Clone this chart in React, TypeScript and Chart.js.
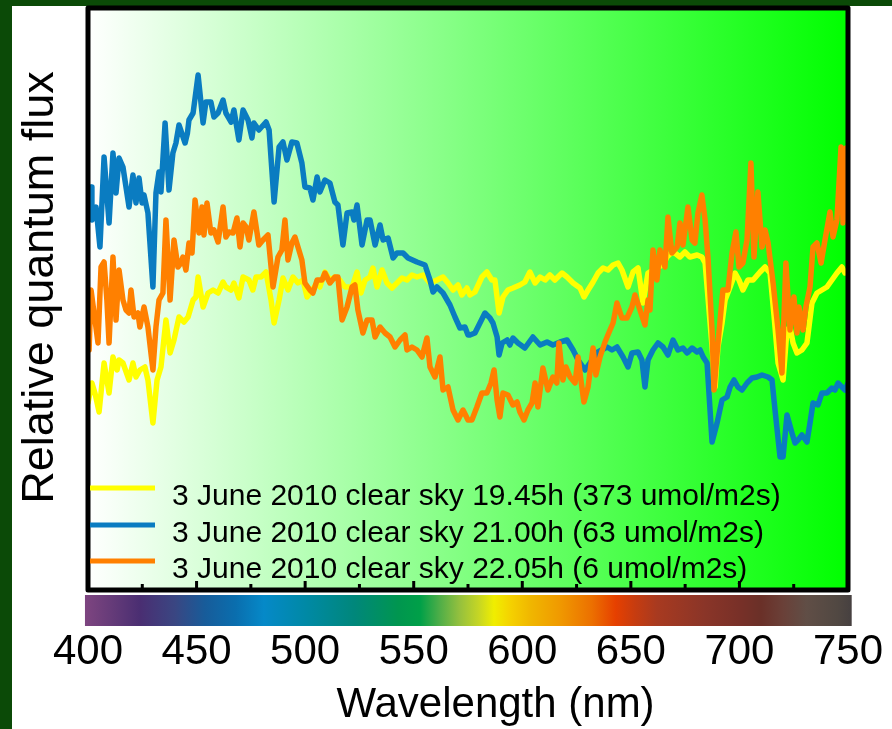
import { useEffect, useRef } from "react";
import { Chart, registerables } from "chart.js";

Chart.register(...registerables);

const FONT = "'Liberation Sans', Arial, Helvetica, sans-serif";

// Wavelength axis (nm)
const WAVELENGTH_MIN = 400;
const WAVELENGTH_MAX = 750;
const WAVELENGTH_STEP = 50;

const SERIES_LABELS = [
  "3 June 2010 clear sky 19.45h (373 umol/m2s)",
  "3 June 2010 clear sky 21.00h (63 umol/m2s)",
  "3 June 2010 clear sky 22.05h (6 umol/m2s)",
];
const SERIES_COLORS = ["#ffff00", "#0a7cc1", "#ff8000"];

// 19.45h spectrum
const YELLOW_NM = [
  400.0, 401.8, 403.2, 405.1, 407.4, 409.7, 411.5, 413.4, 414.3, 416.1,
  418.9, 420.7, 422.1, 423.9, 426.2, 427.6, 429.9, 431.8, 433.6, 435.9,
  437.8, 439.6, 441.9, 444.2, 446.1, 448.4, 449.7, 450.7, 453.0, 455.3,
  457.6, 459.9, 462.2, 463.5, 465.9, 467.2, 469.5, 471.4, 474.1, 475.9,
  477.4, 479.7, 482.0, 484.3, 485.7, 488.0, 489.8, 492.1, 494.4, 496.7,
  499.0, 500.9, 503.2, 505.5, 506.8, 509.1, 511.4, 513.7, 516.0, 518.3,
  521.6, 523.9, 525.7, 527.6, 529.9, 531.2, 533.1, 535.4, 537.7, 540.0,
  542.3, 544.6, 546.9, 549.2, 551.5, 554.3, 557.5, 560.7, 563.5, 565.8,
  568.1, 570.4, 572.2, 574.5, 575.9, 578.2, 581.4, 583.7, 586.0, 587.4,
  589.3, 591.1, 593.4, 595.7, 598.9, 601.2, 603.5, 605.9, 608.2, 610.5,
  612.7, 615.0, 618.3, 620.6, 623.4, 626.6, 628.4, 630.3, 632.6, 634.9,
  637.2, 639.5, 641.8, 644.1, 645.9, 648.7, 651.0, 653.3, 655.6, 657.9,
  660.2, 662.5, 664.8, 666.6, 668.5, 670.3, 672.6, 674.9, 677.2, 680.5,
  682.7, 684.2, 685.5, 687.4, 688.8, 690.1, 692.0, 693.4, 695.7, 698.0,
  699.8, 701.6, 703.9, 706.3, 709.5, 711.8, 714.1, 716.0, 717.8, 720.1,
  721.9, 723.3, 724.7, 726.5, 728.8, 731.1, 733.4, 735.7, 738.0, 740.3,
  742.6, 744.9, 747.2, 748.6, 750.0,
];
const YELLOW_FLUX = [
  187, 207, 197, 178, 227, 197, 233, 220, 230, 227,
  210, 227, 213, 220, 223, 210, 167, 210, 223, 270,
  237, 250, 273, 268, 273, 290, 293, 313, 283, 297,
  300, 297, 308, 303, 300, 307, 292, 313, 310, 300,
  313, 313, 318, 290, 267, 290, 312, 300, 313, 307,
  310, 293, 300, 307, 303, 318, 310, 313, 310, 303,
  303, 318, 297, 310, 313, 322, 303, 320, 307, 302,
  307, 312, 310, 315, 313, 315, 307, 310, 313, 307,
  300, 305, 295, 302, 295, 298, 313, 318, 310, 310,
  277, 293, 300, 302, 305, 308, 318, 307, 313, 310,
  315, 310, 317, 313, 307, 302, 293, 300, 308, 317,
  322, 320, 325, 327, 320, 303, 318, 322, 287, 317,
  320, 323, 325, 333, 337, 337, 333, 338, 333, 335,
  333, 327, 293, 243, 203, 243, 267, 290, 303, 317,
  310, 300, 310, 310, 318, 323, 317, 273, 227, 210,
  260, 263, 247, 237, 240, 247, 287, 297, 300, 303,
  310, 317, 323, 317, 318,
];

// 21.00h spectrum
const BLUE_NM = [
  400.0, 401.4, 401.8, 403.7, 405.5, 407.4, 409.7, 411.5, 412.9, 414.3,
  416.1, 417.5, 418.9, 420.7, 422.1, 423.5, 424.9, 425.8, 427.6, 429.9,
  431.3, 432.7, 433.6, 435.5, 437.3, 439.1, 440.5, 441.9, 444.7, 445.8,
  446.5, 448.4, 450.7, 453.0, 454.3, 456.6, 458.0, 459.9, 462.2, 463.5,
  465.9, 467.2, 469.5, 471.4, 473.7, 475.5, 476.4, 478.7, 482.0, 483.4,
  485.7, 488.0, 489.8, 491.6, 493.9, 496.2, 498.5, 499.9, 502.2, 503.6,
  505.5, 506.8, 509.1, 511.4, 513.7, 515.1, 517.4, 519.3, 521.6, 522.5,
  523.9, 526.2, 528.5, 529.9, 532.2, 534.5, 535.9, 538.2, 540.5, 542.3,
  545.1, 547.4, 551.5, 555.2, 557.5, 558.9, 560.7, 563.5, 566.7, 569.0,
  571.3, 573.6, 575.0, 575.9, 578.2, 580.5, 582.8, 585.1, 586.5, 588.4,
  589.3, 590.7, 593.0, 594.3, 595.7, 598.0, 601.2, 604.9, 608.2, 611.4,
  614.1, 617.4, 620.6, 623.4, 625.7, 628.9, 632.1, 634.9, 639.0, 641.3,
  643.6, 646.4, 648.7, 650.5, 653.3, 655.1, 656.5, 657.9, 660.2, 662.5,
  664.8, 667.1, 669.4, 671.7, 674.0, 675.9, 678.2, 680.5, 681.9, 683.3,
  685.1, 687.4, 689.7, 692.0, 694.3, 695.7, 697.5, 699.3, 701.2, 703.5,
  705.8, 708.1, 710.4, 713.2, 715.0, 716.4, 718.7, 720.1, 721.9, 724.2,
  725.6, 727.0, 728.8, 731.1, 732.5, 733.9, 736.2, 738.0, 740.3, 742.6,
  744.0, 745.4, 747.2, 748.6, 750.0,
];
const BLUE_FLUX = [
  373, 403, 370, 383, 343, 433, 367, 437, 397, 432,
  423, 403, 383, 415, 387, 412, 387, 395, 377, 303,
  397, 418, 398, 467, 400, 437, 447, 465, 447, 457,
  470, 477, 515, 467, 488, 488, 473, 477, 490, 477,
  468, 480, 450, 480, 470, 452, 467, 460, 468, 460,
  388, 443, 448, 430, 448, 447, 427, 403, 402, 390,
  413, 398, 410, 407, 388, 385, 345, 377, 378, 370,
  385, 345, 370, 370, 345, 365, 350, 352, 332, 337,
  337, 332, 328, 325, 310, 298, 303, 297, 285, 273,
  262, 263, 255, 255, 257, 267, 277, 272, 267, 253,
  235, 247, 250, 245, 252, 247, 242, 253, 245, 248,
  245, 248, 250, 240, 230, 220, 230, 238, 243, 240,
  243, 233, 223, 237, 238, 230, 203, 230, 240, 247,
  243, 235, 250, 240, 242, 237, 242, 238, 240, 233,
  227, 148, 167, 190, 193, 203, 210, 203, 200, 207,
  212, 213, 215, 213, 210, 180, 133, 133, 175, 157,
  147, 150, 155, 148, 167, 187, 185, 197, 197, 202,
  200, 207, 203, 200, 207,
];

// 22.05h spectrum
const ORANGE_NM = [
  400.0, 400.5, 401.4, 402.8, 404.6, 406.0, 407.4, 408.7, 409.7, 411.5,
  412.9, 414.3, 416.1, 417.5, 418.9, 419.8, 421.2, 423.0, 423.9, 425.8,
  427.6, 429.9, 431.3, 432.7, 434.5, 435.9, 437.8, 439.6, 441.4, 442.8,
  443.7, 445.1, 446.5, 447.9, 449.3, 451.1, 452.5, 453.4, 454.8, 456.6,
  458.0, 459.9, 462.2, 463.5, 464.9, 466.8, 468.6, 470.0, 471.4, 472.8,
  474.1, 476.4, 478.7, 480.6, 482.9, 485.2, 487.5, 489.3, 490.7, 492.1,
  493.9, 495.3, 496.7, 498.5, 499.9, 502.2, 503.6, 505.5, 507.8, 509.1,
  511.4, 513.7, 515.1, 517.0, 519.3, 521.6, 522.9, 524.3, 526.6, 528.5,
  530.8, 532.2, 534.5, 536.8, 539.1, 541.4, 543.7, 546.0, 546.9, 549.2,
  551.5, 553.8, 556.1, 557.5, 559.8, 562.1, 563.5, 565.8, 568.1, 570.4,
  572.7, 575.0, 576.8, 579.1, 581.4, 583.7, 585.6, 587.0, 588.4, 589.7,
  591.1, 593.4, 595.7, 597.6, 598.9, 600.8, 602.6, 604.5, 605.9, 607.2,
  609.5, 611.8, 614.1, 615.9, 616.9, 618.7, 620.1, 622.0, 624.3, 625.7,
  627.0, 628.4, 630.3, 632.6, 633.9, 635.8, 638.1, 640.4, 641.8, 643.6,
  645.9, 648.2, 650.5, 651.9, 654.2, 656.5, 657.9, 658.8, 660.2, 662.0,
  663.4, 665.7, 667.1, 668.9, 671.3, 672.6, 674.0, 676.3, 678.2, 679.5,
  680.9, 682.7, 684.2, 685.5, 687.4, 688.3, 690.1, 692.4, 694.7, 696.6,
  698.4, 699.8, 701.6, 703.5, 705.3, 706.7, 708.5, 710.4, 711.8, 713.2,
  715.5, 717.8, 719.6, 721.4, 723.3, 725.1, 726.5, 727.4, 729.3, 730.6,
  732.5, 733.9, 735.7, 737.6, 739.4, 741.7, 743.1, 744.9, 746.8, 747.7,
  749.1, 750.0,
];
const ORANGE_FLUX = [
  277, 240, 300, 277, 247, 323, 328, 290, 247, 333,
  270, 320, 290, 280, 277, 300, 273, 277, 263, 283,
  263, 220, 263, 290, 297, 370, 290, 350, 323, 327,
  333, 320, 347, 337, 390, 357, 383, 355, 387, 357,
  360, 348, 383, 353, 358, 357, 372, 343, 367, 363,
  350, 378, 345, 350, 355, 303, 333, 340, 370, 330,
  347, 353, 343, 330, 307, 300, 297, 310, 310, 317,
  307, 313, 313, 270, 283, 303, 305, 280, 257, 270,
  270, 253, 263, 257, 253, 243, 250, 255, 240, 243,
  240, 233, 252, 223, 213, 233, 200, 203, 180, 170,
  180, 170, 170, 183, 197, 197, 207, 220, 190, 173,
  197, 195, 185, 188, 178, 170, 180, 187, 207, 183,
  222, 200, 213, 207, 247, 210, 223, 213, 207, 233,
  210, 188, 203, 242, 215, 233, 248, 260, 267, 287,
  272, 272, 283, 295, 280, 265, 290, 280, 340, 310,
  340, 323, 373, 337, 343, 367, 345, 383, 350, 347,
  377, 395, 370, 333, 260, 200, 247, 300, 300, 337,
  358, 323, 327, 350, 427, 333, 398, 343, 360, 347,
  307, 260, 217, 327, 260, 293, 257, 283, 260, 283,
  303, 343, 347, 327, 350, 378, 353, 370, 443, 367,
  442, 370,
];

// Colour band under the plot: [wavelength nm, colour]
const SPECTRUM_STOPS: [number, string][] = [
  [398.6, "#7e4580"],
  [412, "#633a78"],
  [424, "#4a2e72"],
  [440, "#3a4682"],
  [454, "#175c9a"],
  [468, "#0a6eae"],
  [481, "#0589c8"],
  [500, "#0089a6"],
  [523, "#00877a"],
  [543, "#00964f"],
  [553, "#00a048"],
  [562, "#4fae48"],
  [571, "#94c03e"],
  [580, "#c6d624"],
  [587, "#f0ee00"],
  [595, "#f5d000"],
  [604, "#f0b600"],
  [617, "#f09a00"],
  [632, "#ec7000"],
  [643, "#e64000"],
  [652, "#c63c10"],
  [662, "#a83a20"],
  [684, "#8a3528"],
  [700, "#783028"],
  [710, "#6a3028"],
  [720, "#6a4038"],
  [731, "#604e46"],
  [745, "#514842"],
  [751.7, "#464040"],
];

const series = [
  { nm: YELLOW_NM, flux: YELLOW_FLUX, order: 3 },
  { nm: BLUE_NM, flux: BLUE_FLUX, order: 2 },
  { nm: ORANGE_NM, flux: ORANGE_FLUX, order: 1 },
];

const decorations = {
  id: "spectrumDecorations",
  beforeDraw(chart: any) {
    const { ctx, chartArea: a, width, height } = chart;
    ctx.save();
    // slide background
    ctx.fillStyle = "#0b4a07";
    ctx.fillRect(0, 0, width, height);
    ctx.fillStyle = "#ffffff";
    ctx.fillRect(12, 6, width - 12, height - 6);
    // plot area: white to green
    const g = ctx.createLinearGradient(a.left, 0, a.right, 0);
    g.addColorStop(0, "#ffffff");
    g.addColorStop(1, "#00ff00");
    ctx.fillStyle = g;
    ctx.fillRect(a.left, a.top, a.right - a.left, a.bottom - a.top);
    ctx.restore();
  },
  afterDraw(chart: any) {
    const { ctx, chartArea: a } = chart;
    const xs = chart.scales.x;
    ctx.save();

    // colour band
    const n0 = SPECTRUM_STOPS[0][0];
    const n1 = SPECTRUM_STOPS[SPECTRUM_STOPS.length - 1][0];
    const x0 = xs.getPixelForValue(n0);
    const x1 = xs.getPixelForValue(n1);
    const band = ctx.createLinearGradient(x0, 0, x1, 0);
    SPECTRUM_STOPS.forEach(([nm, c]) => band.addColorStop((nm - n0) / (n1 - n0), c));
    ctx.fillStyle = band;
    ctx.fillRect(x0, a.bottom + 5, x1 - x0, 31);

    // frame
    ctx.strokeStyle = "#000000";
    ctx.lineWidth = 5;
    ctx.lineJoin = "round";
    ctx.strokeRect(a.left, a.top, a.right - a.left, a.bottom - a.top);

    // inward ticks along the bottom edge
    ctx.fillStyle = "#000000";
    for (let nm = WAVELENGTH_MIN + 25; nm < WAVELENGTH_MAX; nm += 25) {
      const px = xs.getPixelForValue(nm);
      const len = nm % 50 === 0 ? 7 : 4;
      ctx.fillRect(px - 1.5, a.bottom - 2 - len, 3, len);
    }

    // legend
    ctx.font = `30px ${FONT}`;
    ctx.textAlign = "left";
    ctx.textBaseline = "alphabetic";
    const rows = [102, 65, 29];
    SERIES_LABELS.forEach((label, i) => {
      const y = a.bottom - rows[i];
      ctx.strokeStyle = SERIES_COLORS[i];
      ctx.lineWidth = 5;
      ctx.lineCap = "butt";
      ctx.beginPath();
      ctx.moveTo(a.left + 2, y);
      ctx.lineTo(a.left + 67, y);
      ctx.stroke();
      ctx.fillStyle = "#000000";
      ctx.fillText(label, a.left + 84, y + 17);
    });

    // axis titles
    ctx.fillStyle = "#000000";
    ctx.textAlign = "center";
    ctx.font = `42px ${FONT}`;
    ctx.fillText("Wavelength (nm)", (a.left + a.right) / 2 + 27.5, 717);

    ctx.translate(53, 287.5);
    ctx.rotate(-Math.PI / 2);
    ctx.font = `45px ${FONT}`;
    ctx.fillText("Relative quantum flux", 0, 0);
    ctx.restore();
  },
};

export default function App() {
  const canvasRef = useRef<HTMLCanvasElement>(null);

  useEffect(() => {
    document.body.style.margin = "0";
    const canvas = canvasRef.current;
    if (!canvas) return;
    const chart = new Chart(canvas, {
      type: "line",
      data: {
        datasets: series.map((s, i) => ({
          label: SERIES_LABELS[i],
          data: s.nm.map((x, j) => ({ x, y: s.flux[j] })),
          borderColor: SERIES_COLORS[i],
          backgroundColor: SERIES_COLORS[i],
          borderWidth: 5.5,
          borderJoinStyle: "round" as const,
          borderCapStyle: "round" as const,
          pointRadius: 0,
          tension: 0,
          fill: false,
          order: s.order,
        })),
      },
      options: {
        responsive: false,
        maintainAspectRatio: false,
        animation: false,
        events: [],
        layout: {
          padding: { left: 88, right: 44, top: 8, bottom: 49.6 },
        },
        scales: {
          x: {
            type: "linear",
            min: WAVELENGTH_MIN,
            max: WAVELENGTH_MAX,
            border: { display: false },
            // invisible tick marks only reserve room for the colour band
            grid: {
              display: true,
              drawOnChartArea: false,
              drawTicks: true,
              tickLength: 35,
              color: "rgba(0,0,0,0)",
            },
            ticks: {
              stepSize: WAVELENGTH_STEP,
              padding: 2,
              color: "#000000",
              maxRotation: 0,
              autoSkip: false,
              font: { family: FONT, size: 42 },
            },
          },
          y: { display: false, min: 0, max: 582 },
        },
        plugins: {
          legend: { display: false },
          tooltip: { enabled: false },
        },
      },
      plugins: [decorations],
    });
    return () => chart.destroy();
  }, []);

  return <canvas ref={canvasRef} width={892} height={729} style={{ display: "block" }} />;
}
